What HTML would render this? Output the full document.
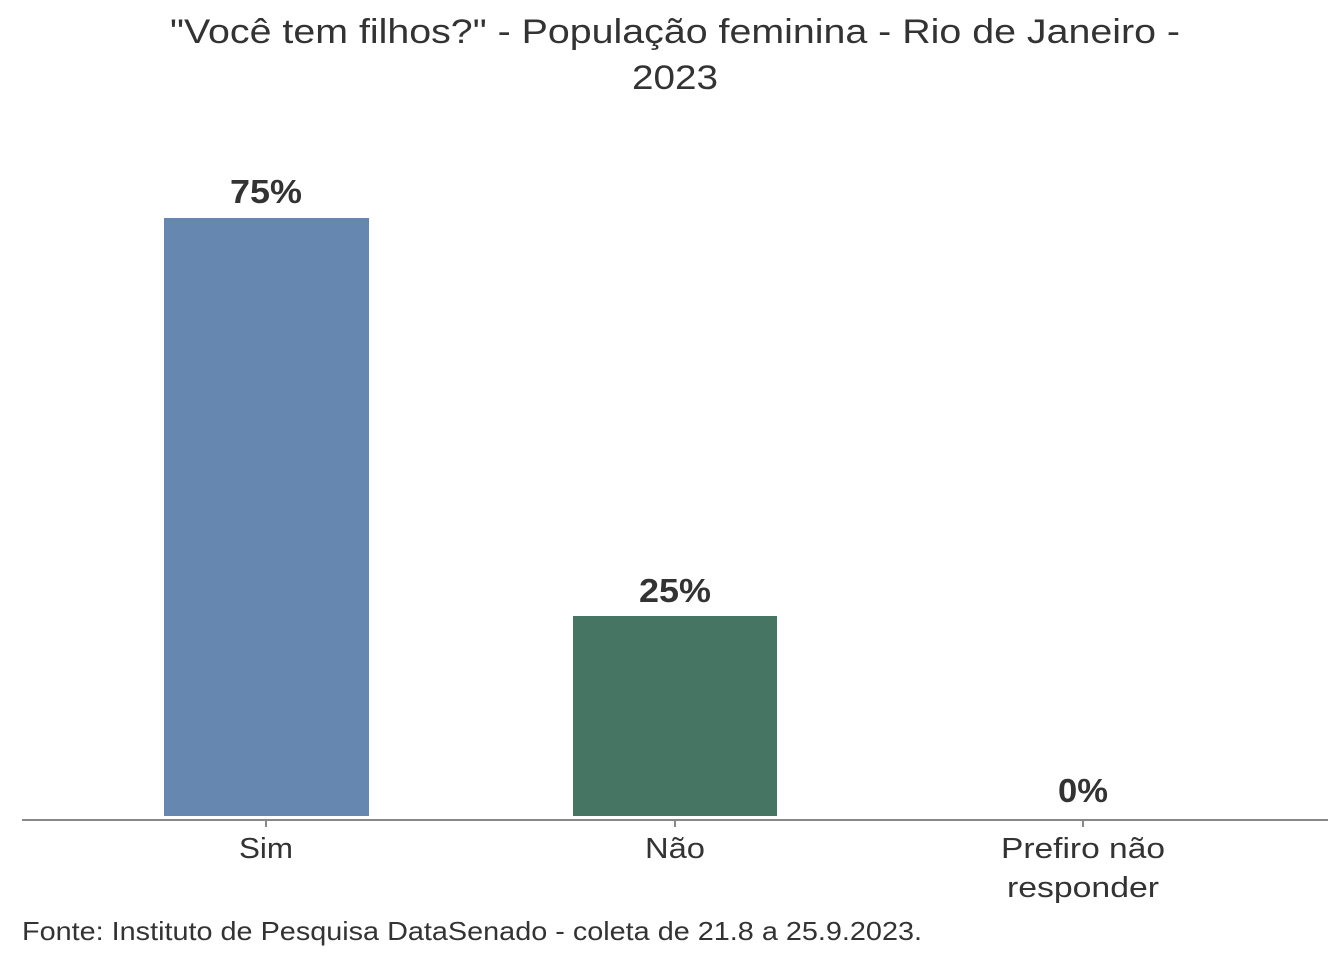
<!DOCTYPE html>
<html><head><meta charset="utf-8"><style>html,body{margin:0;padding:0;background:#fff}</style></head>
<body>
<svg width="1344" height="960" viewBox="0 0 1344 960" xmlns="http://www.w3.org/2000/svg">
<g font-family="'Liberation Sans','DejaVu Sans',sans-serif" fill="#333">
<text x="675" y="43" font-size="34" text-anchor="middle" textLength="1010" lengthAdjust="spacingAndGlyphs">"Você tem filhos?" - População feminina - Rio de Janeiro -</text>
<text x="675" y="89" font-size="34" text-anchor="middle" textLength="86" lengthAdjust="spacingAndGlyphs">2023</text>
<rect x="164" y="218" width="205" height="598" fill="#6688b0"/>
<rect x="573" y="616" width="204" height="200" fill="#467563"/>
<line x1="22" y1="820" x2="1328" y2="820" stroke="#888" stroke-width="2"/>
<line x1="266" y1="820" x2="266" y2="827" stroke="#888" stroke-width="2"/>
<line x1="675" y1="820" x2="675" y2="827" stroke="#888" stroke-width="2"/>
<line x1="1083" y1="820" x2="1083" y2="827" stroke="#888" stroke-width="2"/>
<g font-weight="bold" font-size="33" text-anchor="middle">
<text x="266" y="203" textLength="72" lengthAdjust="spacingAndGlyphs">75%</text>
<text x="675" y="602" textLength="72" lengthAdjust="spacingAndGlyphs">25%</text>
<text x="1083" y="802" textLength="50" lengthAdjust="spacingAndGlyphs">0%</text>
</g>
<g font-size="29" text-anchor="middle">
<text x="266" y="858" textLength="54" lengthAdjust="spacingAndGlyphs">Sim</text>
<text x="675" y="858" textLength="60" lengthAdjust="spacingAndGlyphs">Não</text>
<text x="1083" y="858" textLength="164" lengthAdjust="spacingAndGlyphs">Prefiro não</text>
<text x="1083" y="897" textLength="152" lengthAdjust="spacingAndGlyphs">responder</text>
</g>
<text x="22" y="940" font-size="26" textLength="900" lengthAdjust="spacingAndGlyphs">Fonte: Instituto de Pesquisa DataSenado - coleta de 21.8 a 25.9.2023.</text>
</g>
</svg>
</body></html>
